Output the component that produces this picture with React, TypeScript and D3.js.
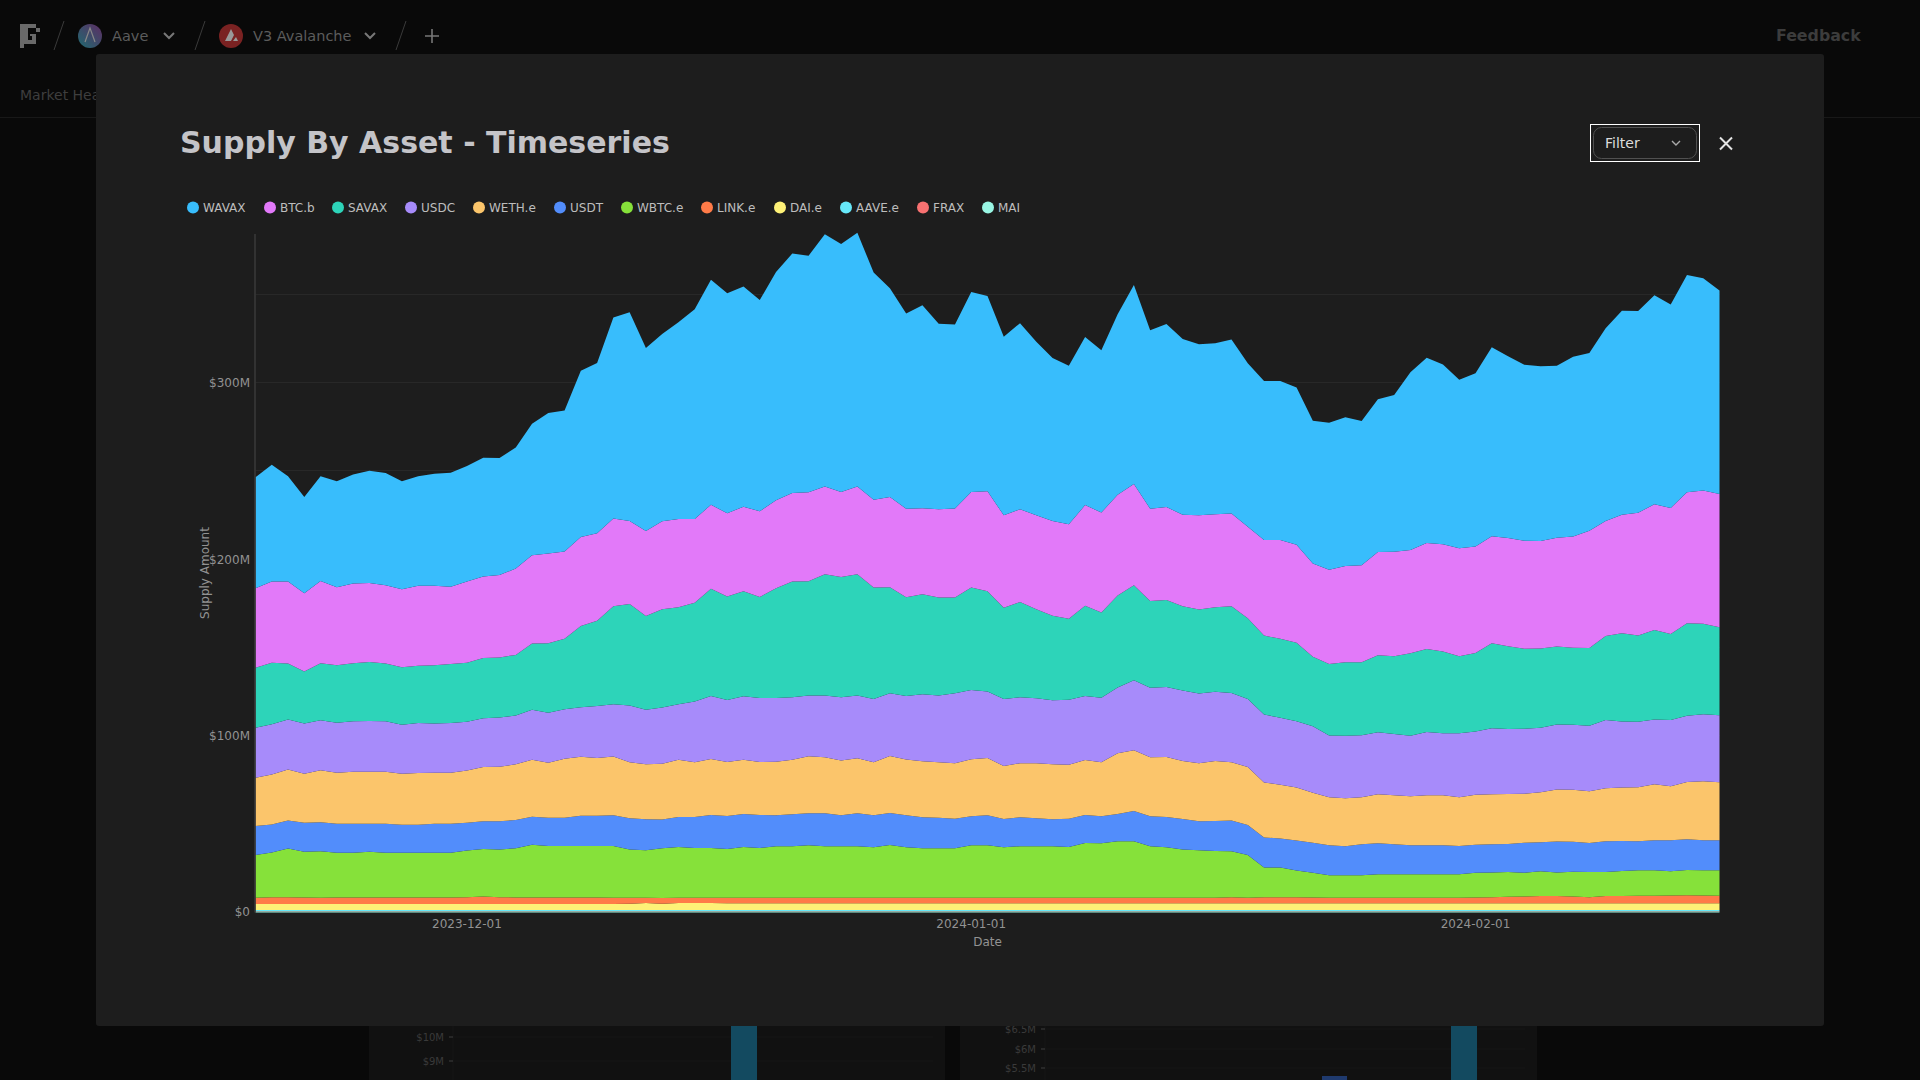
import React from "react";
import * as d3 from "d3";

const startDay = "2023-11-18";
const endDay = "2024-02-17";
const xTickDates = ["2023-12-01", "2024-01-01", "2024-02-01"];
const yGridValues = [50, 100, 150, 200, 250, 300, 350];
const yLabelValues = [0, 100, 200, 300];

const assetNames = ["WAVAX", "BTC.b", "SAVAX", "USDC", "WETH.e", "USDT", "WBTC.e", "LINK.e", "DAI.e", "AAVE.e", "FRAX", "MAI"];
const assetColors = ["#38bdfc", "#e279f9", "#2dd4b9", "#a78bfa", "#fbc56b", "#528dfb", "#86e13a", "#ff7b48", "#fef177", "#67e8f9", "#f87171", "#99f6e4"];
const legendDotX = [193, 270, 338, 411, 479, 560, 627, 707, 780, 846, 923, 988];

const wavax = [62.8,66.2,59.6,54.5,59.3,60.0,61.7,63.6,63.6,61.1,61.9,63.4,64.5,65.3,67.2,66.2,68.5,74.5,79.6,79.8,94.0,96.4,113.8,118.1,103.6,106.1,111.3,118.7,127.4,124.5,124.7,119.6,129.3,135.5,133.8,142.8,140.4,143.6,128.7,118.1,110.6,114.9,104.9,104.2,113.2,110.4,101.1,105.3,98.1,92.3,89.8,95.1,91.9,102.1,112.7,101.0,103.6,99.4,96.8,96.8,98.5,92.5,90.0,90.0,88.9,80.8,83.2,84.2,81.7,86.4,88.7,100.6,104.9,101.7,95.3,98.1,107.0,102.8,99.6,98.9,97.4,101.7,100.6,109.1,115.5,114.2,118.3,115.3,123.0,120.2,115.1];
const btcB = [44.9,46.0,46.4,44.3,46.6,44.2,45.1,44.7,44.3,44.2,45.3,44.9,43.8,46.0,46.2,46.6,48.9,50.0,50.8,49.4,50.4,49.4,49.6,47.0,48.1,49.8,50.0,47.4,47.6,47.2,47.9,48.5,49.8,50.2,50.4,49.6,48.1,49.6,49.6,51.1,50.0,48.7,50.0,50.4,54.0,56.6,52.3,52.6,53.2,53.6,53.4,57.0,56.6,57.0,57.2,52.3,52.6,51.9,53.4,52.6,52.6,51.9,54.0,55.9,55.5,52.8,53.4,54.5,54.9,58.5,59.1,58.5,60.0,60.8,61.1,60.2,60.6,61.3,61.1,60.8,61.5,63.0,66.4,65.1,67.0,69.4,71.3,71.3,74.2,75.3,75.5];
const savax = [34.0,34.7,31.7,29.4,32.3,32.5,32.8,33.4,32.6,32.5,32.5,33.0,33.4,33.4,34.0,34.0,34.3,37.4,39.4,39.8,46.0,48.3,55.5,57.4,53.0,55.5,54.9,55.9,60.6,58.5,59.4,57.2,62.1,65.5,64.7,68.7,68.1,68.7,63.2,60.0,55.9,56.6,55.5,54.2,58.1,56.8,51.7,53.8,50.4,47.9,45.9,51.1,48.3,52.1,53.8,49.1,49.3,47.6,47.6,47.9,49.1,45.7,44.7,44.7,44.5,39.4,40.4,41.7,41.3,43.6,44.0,46.6,47.0,46.2,43.6,44.5,48.1,46.8,45.3,44.9,44.2,43.6,44.0,47.6,50.0,48.9,50.6,48.7,52.3,51.3,49.8];
const usdc = [28.3,28.5,28.3,28.5,28.3,28.3,28.7,28.7,28.7,27.7,28.3,27.9,28.1,27.6,27.7,27.9,27.6,28.3,28.3,28.1,28.1,29.4,29.6,32.1,30.9,31.9,31.5,34.3,35.7,35.1,36.0,36.2,36.0,35.3,34.3,34.9,35.7,35.5,35.7,35.5,36.0,37.9,37.7,39.6,39.1,37.7,37.9,37.4,36.8,36.2,36.8,36.2,36.4,37.2,39.6,39.3,39.6,40.0,39.4,39.1,39.1,38.5,38.5,37.9,37.4,37.6,34.9,35.3,35.1,35.1,34.7,34.3,35.7,35.1,36.2,35.7,37.4,36.8,36.8,36.6,36.8,36.8,37.0,38.5,37.4,37.0,36.6,37.4,37.6,37.9,37.9];
const wethE = [27.4,28.3,28.9,27.7,29.4,28.9,29.4,29.4,29.4,28.9,29.2,28.9,28.9,29.6,30.6,30.9,31.5,32.3,31.1,33.4,33.4,32.8,33.2,31.7,31.1,31.5,32.3,31.1,31.7,30.6,30.6,30.0,30.4,30.9,32.3,31.7,31.1,31.1,30.0,32.3,31.5,31.7,31.5,31.5,32.3,32.3,30.0,30.6,31.1,31.1,30.6,31.1,30.6,34.5,34.5,33.4,34.0,32.8,32.8,34.0,33.0,32.8,31.1,30.4,30.0,28.3,27.2,27.2,26.6,27.7,27.7,27.7,28.3,28.3,27.7,28.3,28.3,28.3,27.7,28.3,29.4,29.4,29.4,30.0,30.2,30.6,31.7,30.6,32.3,33.4,32.8];
const usdt = [16.4,15.9,15.9,16.4,16.4,16.4,16.4,15.9,16.4,15.9,15.9,16.4,16.4,15.7,15.7,15.9,16.0,15.9,15.9,15.9,17.0,17.0,17.5,17.7,17.5,16.4,17.0,17.5,18.7,18.7,18.7,18.7,17.5,18.1,18.1,18.7,17.5,18.7,18.1,18.1,18.1,17.5,17.2,16.6,16.4,17.0,15.9,16.4,15.9,15.3,15.9,15.9,15.3,15.3,17.0,17.0,17.0,17.2,16.4,17.0,17.5,17.0,17.0,16.4,17.0,17.0,17.0,16.4,17.5,17.5,17.0,16.4,16.4,16.4,15.9,15.9,15.9,15.9,17.0,16.4,17.5,17.0,16.4,17.5,17.0,16.4,17.0,17.5,17.5,17.0,17.0];
const wbtcE = [24.2,25.3,27.6,25.9,26.4,25.3,25.3,25.9,25.3,25.3,25.3,25.3,25.3,26.4,27.0,27.0,27.9,29.8,29.2,29.2,29.2,29.2,29.2,27.4,27.0,28.1,28.7,28.1,28.1,27.6,28.7,28.1,29.2,29.2,29.8,29.2,29.2,29.2,28.7,29.8,28.7,28.1,28.1,28.1,29.8,29.8,28.7,29.2,29.2,29.2,28.7,30.9,30.9,32.1,32.1,29.2,28.7,27.4,27.0,26.4,25.9,24.2,16.8,16.8,15.1,14.0,12.8,12.8,12.8,13.4,13.4,13.4,13.4,13.4,13.4,14.0,14.0,14.0,13.4,14.0,13.4,14.0,14.2,13.6,14.2,14.5,14.5,13.8,14.2,14.3,14.5];
const linkE = [3.5,3.8,3.8,3.7,3.5,3.7,3.7,3.7,3.7,3.7,3.7,3.7,3.7,3.9,4.2,3.9,3.7,3.7,3.7,3.7,3.7,3.7,3.6,3.4,2.9,3.2,3.0,3.0,3.0,3.0,3.1,3.1,3.0,3.0,3.0,3.0,3.0,3.0,3.0,3.1,3.0,3.0,3.0,3.0,3.0,3.0,3.0,3.0,3.0,3.0,3.1,3.1,3.0,3.0,3.0,3.0,3.0,3.0,3.0,3.1,3.4,3.0,3.4,3.4,3.4,3.2,3.0,3.0,3.0,3.0,3.0,3.0,3.0,3.0,3.0,3.2,3.4,3.6,3.8,4.0,4.0,3.8,3.4,4.0,4.0,4.15,4.15,4.3,4.5,4.3,4.15];
const daiE = [3.4,3.4,3.4,3.4,3.4,3.4,3.4,3.4,3.4,3.4,3.4,3.4,3.4,3.4,3.4,3.4,3.4,3.4,3.4,3.4,3.4,3.4,3.4,3.5,4.0,3.6,4.0,4.0,4.0,3.9,3.9,3.9,3.9,3.9,3.9,3.9,3.9,3.9,3.9,3.9,3.9,3.9,3.9,3.9,3.9,3.9,3.9,3.9,3.9,3.9,3.9,3.9,3.9,3.9,3.9,3.9,3.9,3.9,3.9,3.9,3.9,3.9,3.9,3.9,3.9,3.9,3.9,3.9,3.9,3.9,3.9,3.9,3.9,3.9,3.9,3.9,3.9,3.9,3.9,3.9,3.9,3.9,3.9,3.9,3.9,3.9,3.9,3.9,3.9,3.9,3.9];
const aaveE = wavax.map(() => 0.55);
const frax = wavax.map(() => 0.15);
const mai = wavax.map(() => 0.7);

const seriesValues = [wavax, btcB, savax, usdc, wethE, usdt, wbtcE, linkE, daiE, aaveE, frax, mai];

const dates = d3.utcDay.range(new Date(startDay), new Date(endDay));
const rows = dates.map((date, i) => {
  const row: Record<string, any> = { date };
  assetNames.forEach((name, s) => (row[name] = seriesValues[s][i]));
  return row;
});
const stackKeys = [...assetNames].reverse();
const stacked = d3.stack<any>().keys(stackKeys)(rows);

const x = d3.scaleUtc().domain([dates[0], dates[dates.length - 1]]).range([255.5, 1719.5]);
const y = d3.scaleLinear().domain([0, 300]).range([912.5, 382.5]);
const area = d3
  .area<any>()
  .x((d) => x(d.data.date))
  .y0((d) => y(d[0]))
  .y1((d) => y(d[1]))
  .curve(d3.curveLinear);
const fmtUsd = (v: number) => (v === 0 ? "$0" : `$${v}M`);
const FONT = "'DejaVu Sans', sans-serif";

function Backdrop() {
  return (
    <g fontFamily={FONT}>
      <rect width={1920} height={1080} fill="#090909" />
      <defs>
        <linearGradient id="aaveBadge" x1="0" y1="1" x2="1" y2="0">
          <stop offset="0" stopColor="#1f6a70" />
          <stop offset="1" stopColor="#5e2c63" />
        </linearGradient>
      </defs>
      {/* logo */}
      <path d="M20 24h16v4h4v4h-4v-4H28v12h4v-4h-2v-2h6v10H20z" fill="#6a6a6a" fillRule="evenodd" />
      <rect x={20} y={44} width={4} height={4} fill="#6a6a6a" />
      <path d="M54 50L64 21M195 50L205 21M396 50L406 21" stroke="#3a3a3a" strokeWidth={1} />
      <circle cx={90} cy={36} r={12} fill="url(#aaveBadge)" />
      <path d="M85 42L90 28L95 42" fill="none" stroke="#888" strokeWidth={1.2} />
      <text x={112} y={41} fontSize={14.5} fill="#5c5c5c">Aave</text>
      <path d="M164 33l5 5 5-5" fill="none" stroke="#777" strokeWidth={2} />
      <circle cx={231} cy={36} r={12} fill="#7a2222" />
      <path d="M225 41l6-12 3 6-3 6z M233 41l3-4 2 4z" fill="#999" />
      <text x={253} y={41} fontSize={14.5} fill="#5c5c5c">V3 Avalanche</text>
      <path d="M365 33l5 5 5-5" fill="none" stroke="#777" strokeWidth={2} />
      <path d="M432 29v14M425 36h14" stroke="#777" strokeWidth={1.6} />
      <text x={1776} y={41} fontSize={15.8} fontWeight={700} fill="#3c3c3c">Feedback</text>
      <text x={20} y={100} fontSize={14} fill="#3e3e3e">Market Health</text>
      <line x1={0} x2={1920} y1={117.5} y2={117.5} stroke="#181818" />
      {/* charts behind the modal */}
      <rect x={369} y={1020} width={576} height={60} fill="#111111" />
      <rect x={960} y={1020} width={577} height={60} fill="#111111" />
      <path d="M453 1020v60M1045 1020v60M453 1037h480M453 1061h480M1045 1029h480M1045 1049h480M1045 1068h480" stroke="#161616" />
      <rect x={731} y={1020} width={26} height={60} fill="#134a60" />
      <rect x={1451} y={1020} width={26} height={60} fill="#134a60" />
      <rect x={1322} y={1076} width={25} height={4} fill="#1f3a6e" />
      <g fontSize={10} fill="#3a3a3a" textAnchor="end">
        <text x={444} y={1041}>$10M</text>
        <text x={444} y={1065}>$9M</text>
        <text x={1036} y={1033}>$6.5M</text>
        <text x={1036} y={1053}>$6M</text>
        <text x={1036} y={1072}>$5.5M</text>
      </g>
      <path d="M449 1037h4M449 1061h4M1041 1029h4M1041 1049h4M1041 1068h4" stroke="#3e3e3e" />
    </g>
  );
}

export default function App() {
  return (
    <svg
      width={1920}
      height={1080}
      viewBox="0 0 1920 1080"
      style={{ position: "fixed", left: 0, top: 0, display: "block" }}
    >
      <Backdrop />
      <rect x={96} y={54} width={1728} height={972} rx={3} fill="#1d1d1d" />
      <g fontFamily={FONT}>
        <text x={180} y={153} fontSize={30} fontWeight={700} fill="#c4c4c8">
          Supply By Asset - Timeseries
        </text>

        <rect x={1590.5} y={124.5} width={109} height={37} fill="none" stroke="#fff" strokeWidth={1} />
        <rect x={1593.5} y={127.5} width={103} height={31} rx={8} fill="none" stroke="#505050" strokeWidth={1} />
        <text x={1605} y={148} fontSize={14} fill="#dddddd">Filter</text>
        <path d="M1672 141l4 4 4-4" fill="none" stroke="#aaa" strokeWidth={1.4} />
        <path d="M1720 137.5l12 12M1732 137.5l-12 12" stroke="#e4e4e4" strokeWidth={2} />

        {assetNames.map((name, i) => (
          <g key={name}>
            <circle cx={legendDotX[i]} cy={207.5} r={6} fill={assetColors[i]} />
            <text x={legendDotX[i] + 10} y={212} fontSize={12} fill="#bdbdbd">{name}</text>
          </g>
        ))}

        {yGridValues.map((v) => (
          <line key={v} x1={255.5} x2={1719.5} y1={Math.floor(y(v)) + 0.5} y2={Math.floor(y(v)) + 0.5} stroke="#282828" strokeWidth={1} />
        ))}
        {stacked.map((layer) => (
          <path key={layer.key} d={area(layer) ?? ""} fill={assetColors[assetNames.indexOf(layer.key)]} />
        ))}
        <line x1={255} x2={255} y1={234} y2={912.5} stroke="#3a3a3a" strokeWidth={1.5} />

        {yLabelValues.map((v) => (
          <text key={v} x={250} y={y(v) + (v === 0 ? 3.5 : 4.5)} fontSize={12} textAnchor="end" fill="#929292">{fmtUsd(v)}</text>
        ))}
        {xTickDates.map((d) => (
          <text key={d} x={x(new Date(d))} y={928} fontSize={12} textAnchor="middle" fill="#929292">{d}</text>
        ))}
        <text x={987.5} y={946} fontSize={12} textAnchor="middle" fill="#929292">Date</text>
        <text transform="translate(209,573) rotate(-90)" fontSize={12} textAnchor="middle" fill="#929292">Supply Amount</text>
      </g>
    </svg>
  );
}
